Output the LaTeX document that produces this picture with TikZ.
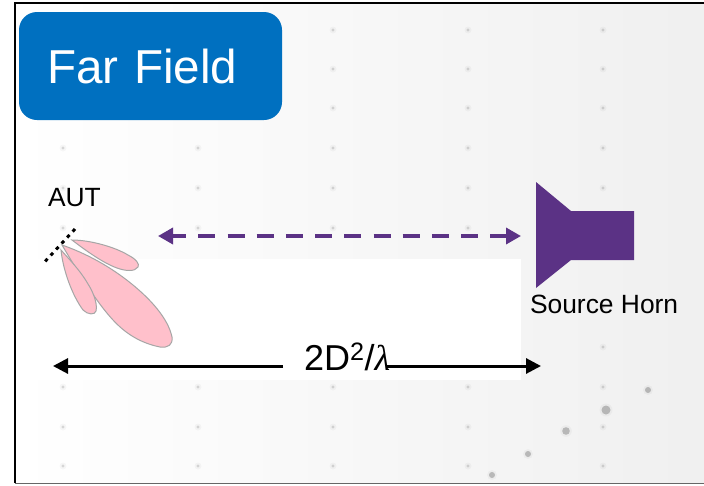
\documentclass[tikz,border=0pt]{standalone}
\usepackage{fontspec}
\setmainfont{Liberation Sans}
\newfontfamily\lambdafont{Liberation Serif}
\usetikzlibrary{positioning,arrows.meta}
\definecolor{myblue}{RGB}{0, 112, 192}
\definecolor{mypurple}{RGB}{91, 50, 133}
\definecolor{mypink}{RGB}{255, 192, 203}
\definecolor{mygrey}{RGB}{166, 166, 166}
\tikzset{
    titlebox/.style={fill=myblue, rounded corners=18pt, text=white, anchor=north west, minimum height=108pt, text width=207pt, inner xsep=28pt, inner ysep=0pt, outer sep=0pt, font=\fontsize{47.6}{50}\selectfont},
    label/.style={anchor=base west, inner sep=0pt, outer sep=0pt, font=\fontsize{26.4}{28}\selectfont},
    lobe/.style={fill=mypink, draw=mygrey, line width=1pt},
    griddot/.style={fill=black, opacity=.13},
    griddothalo/.style={fill=black, opacity=.03},
    stardot/.style={fill=black, opacity=.22},
}
\begin{document}
\begin{tikzpicture}[x=1pt, y=-1pt, >={Triangle[length=15pt,width=15pt]}, line width=3pt]
    \useasboundingbox (0,0) rectangle (704,485);

    % backdrop
    \shade[left color=white, right color=black!6] (15,3) rectangle (704,483);
    \foreach \yy in {30,69,108,148,188,228,307,347,387,427,466}{
        \foreach \xx in {63,198,333,468,603}{
            \fill[griddothalo] (\xx,\yy) circle (3.5);
            \fill[griddot] (\xx,\yy) circle (1.6);
        }
    }
    \foreach \xx/\yy/\rr in {648/390/3, 606/410/4.5, 566/431/3.8, 528/454/3, 492/475/3}{
        \fill[griddothalo] (\xx,\yy) circle (\rr+2);
        \fill[stardot] (\xx,\yy) circle (\rr);
    }
    \fill[white] (33,259) rectangle (521,380);

    \draw[black, line width=2pt] (15,483) -- (15,3) -- (704,3);
    \draw[black!60, line width=1.5pt] (15,483.5) -- (704,483.5);

    \node[titlebox] (title) at (19,12) {Far Field};
    \node[label] (aut) at (48,206) {AUT};
    \node[label] (source) at (530,313) {Source Horn};

    % aperture and lobes
    \coordinate (apertureA) at (42.7,264);
    \coordinate (apertureB) at (75,229);
    \draw[black, dash pattern=on 3.5pt off 4.6pt, line width=3pt] (apertureB) -- (apertureA);

    \draw[lobe] (62,245) .. controls (85,253) and (110,266) .. (133,285)
        .. controls (150,299) and (168,318) .. (172,337)
        .. controls (173,345) and (168,348) .. (160,347)
        .. controls (140,343) and (125,333) .. (113,320)
        .. controls (100,306) and (85,284) .. cycle;
    \draw[lobe] (72,240) .. controls (90,240) and (115,247) .. (128,255)
        .. controls (136,259) and (140,264) .. (138,267)
        .. controls (135,272) and (125,271) .. (117,268)
        .. controls (103,263) and (85,250) .. cycle;
    \draw[lobe] (61,250) .. controls (63,270) and (72,295) .. (83,310)
        .. controls (88,315) and (95,315) .. (96,311)
        .. controls (98,303) and (92,290) .. (88,284)
        .. controls (80,270) and (68,258) .. cycle;

    % horn
    \fill[mypurple] (536,182) -- (571,211) -- (634,211) -- (634,260) -- (571,260) -- (536,288) -- cycle;

    % separation
    \coordinate (beamL) at (158,236);
    \coordinate (beamR) at (521,236);
    \draw[<->, >={Triangle[length=15pt,width=16pt]}, mypurple, line width=3.5pt, dash pattern=on 17pt off 12.2pt, dash phase=3pt] (beamL) -- (beamR);

    \node[anchor=base west, inner sep=0pt, outer sep=0pt, font=\fontsize{36}{38}\selectfont] (distance) at (304,370) {2D\textsuperscript{2}/{\lambdafont\itshape λ}};
    \coordinate (spanL) at (53,366);
    \coordinate (spanR) at (541,366);
    \coordinate (spanLend) at (283,366);
    \coordinate (spanRend) at (387,366);
    \draw[->, black] (spanLend) -- (spanL);
    \draw[->, black] (spanRend) -- (spanR);
\end{tikzpicture}
\end{document}
